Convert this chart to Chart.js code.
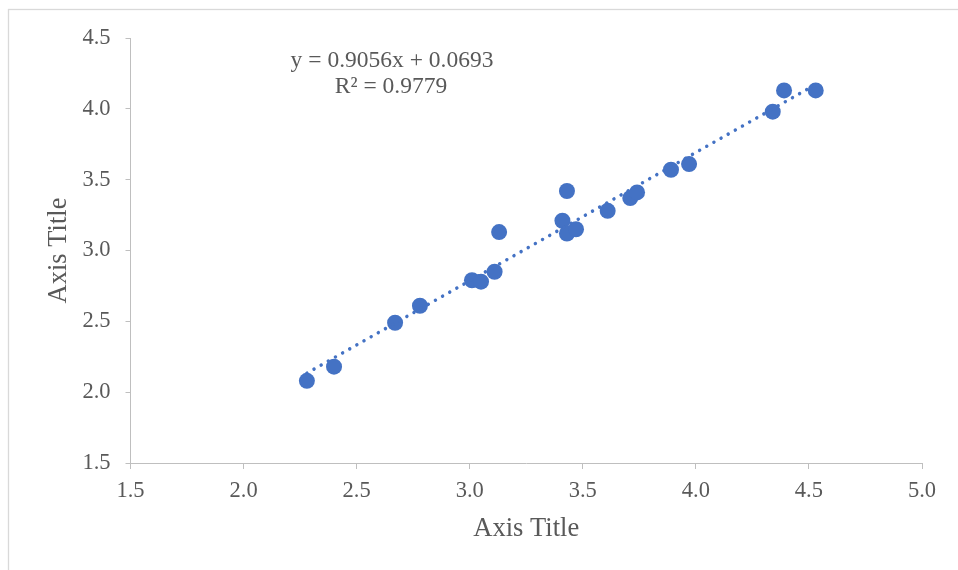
<!DOCTYPE html>
<html>
<head>
<meta charset="utf-8">
<style>
  html, body { margin: 0; padding: 0; background: #ffffff; }
  #wrap { position: relative; width: 958px; height: 570px; }
  canvas { display: block; }
</style>
<script src="https://cdn.jsdelivr.net/npm/chart.js@4/dist/chart.umd.min.js"></script>
</head>
<body>
<div id="wrap"><canvas id="c" width="958" height="570"></canvas></div>
<script>
// ---- data ----
const xValues = [2.28, 2.40, 2.67, 2.78, 3.01, 3.05, 3.11, 3.13, 3.41, 3.43, 3.43, 3.47, 3.61, 3.71, 3.74, 3.89, 3.97, 4.34, 4.39, 4.53];
const yValues = [2.08, 2.18, 2.49, 2.61, 2.79, 2.78, 2.85, 3.13, 3.21, 3.42, 3.12, 3.15, 3.28, 3.37, 3.41, 3.57, 3.61, 3.98, 4.13, 4.13];
const trendX = [2.28, 4.53];
const trendY = [2.134, 4.172];
const xTicks = [1.5, 2.0, 2.5, 3.0, 3.5, 4.0, 4.5, 5.0];
const yTicks = [1.5, 2.0, 2.5, 3.0, 3.5, 4.0, 4.5];
const equationText = 'y = 0.9056x + 0.0693';
const r2Text = 'R\u00B2 = 0.9779';
const xTitle = 'Axis Title';
const yTitle = 'Axis Title';

const FONT = "'Liberation Serif', 'Times New Roman', serif";
const TEXT = '#595959';
const AXIS = '#bfbfbf';
const BLUE = '#4472C4';

const scatterPts = xValues.map((x, i) => ({ x: x, y: yValues[i] }));
const trendPts = trendX.map((x, i) => ({ x: x, y: trendY[i] }));

const decor = {
  id: 'decor',
  beforeDraw(chart) {
    const ctx = chart.ctx;
    ctx.save();
    ctx.fillStyle = '#ffffff';
    ctx.fillRect(0, 0, chart.width, chart.height);
    ctx.strokeStyle = '#d9d9d9';
    ctx.lineWidth = 1.3;
    ctx.strokeRect(8.5, 9.5, chart.width + 10, chart.height + 10);
    ctx.restore();
  },
  afterDraw(chart) {
    const ctx = chart.ctx;
    ctx.save();
    ctx.fillStyle = TEXT;
    ctx.font = '23.5px ' + FONT;
    ctx.textAlign = 'center';
    ctx.textBaseline = 'middle';
    ctx.fillText(equationText, 392, 61);
    ctx.fillText(r2Text, 391, 87);
    ctx.restore();
  }
};

new Chart(document.getElementById('c'), {
  type: 'scatter',
  data: {
    datasets: [
      {
        type: 'line',
        data: trendPts,
        borderColor: BLUE,
        borderWidth: 3.5,
        borderDash: [0.01, 8.2],
        borderCapStyle: 'round',
        pointRadius: 0,
        fill: false,
        tension: 0
      },
      {
        data: scatterPts,
        backgroundColor: BLUE,
        borderColor: BLUE,
        borderWidth: 0,
        pointRadius: 8,
        pointHoverRadius: 8
      }
    ]
  },
  options: {
    responsive: false,
    animation: false,
    events: [],
    layout: { padding: { left: 43, top: 38, right: 36, bottom: 25 } },
    plugins: { legend: { display: false }, tooltip: { enabled: false } },
    scales: {
      x: {
        type: 'linear',
        min: xTicks[0],
        max: xTicks[xTicks.length - 1],
        afterBuildTicks(s) { s.ticks = xTicks.map(v => ({ value: v })); },
        afterFit(s) { s.height = 82; },
        ticks: {
          callback: v => Number(v).toFixed(1),
          color: TEXT,
          font: { family: FONT, size: 22.5 },
          padding: 9,
          maxRotation: 0
        },
        grid: { drawOnChartArea: false, drawTicks: true, tickLength: 6, color: AXIS },
        border: { display: true, color: AXIS, width: 1 },
        title: { display: true, text: xTitle, color: TEXT, font: { family: FONT, size: 26.5 }, padding: 0 }
      },
      y: {
        type: 'linear',
        min: yTicks[0],
        max: yTicks[yTicks.length - 1],
        afterBuildTicks(s) { s.ticks = yTicks.map(v => ({ value: v })); },
        afterFit(s) { s.width = 87.5; },
        ticks: {
          callback: v => Number(v).toFixed(1),
          color: TEXT,
          font: { family: FONT, size: 22.5 },
          padding: 15
        },
        grid: { drawOnChartArea: false, drawTicks: true, tickLength: 5, color: AXIS },
        border: { display: true, color: AXIS, width: 1 },
        title: { display: true, text: yTitle, color: TEXT, font: { family: FONT, size: 26.5 }, padding: 0 }
      }
    }
  },
  plugins: [decor]
});
</script>
</body>
</html>
